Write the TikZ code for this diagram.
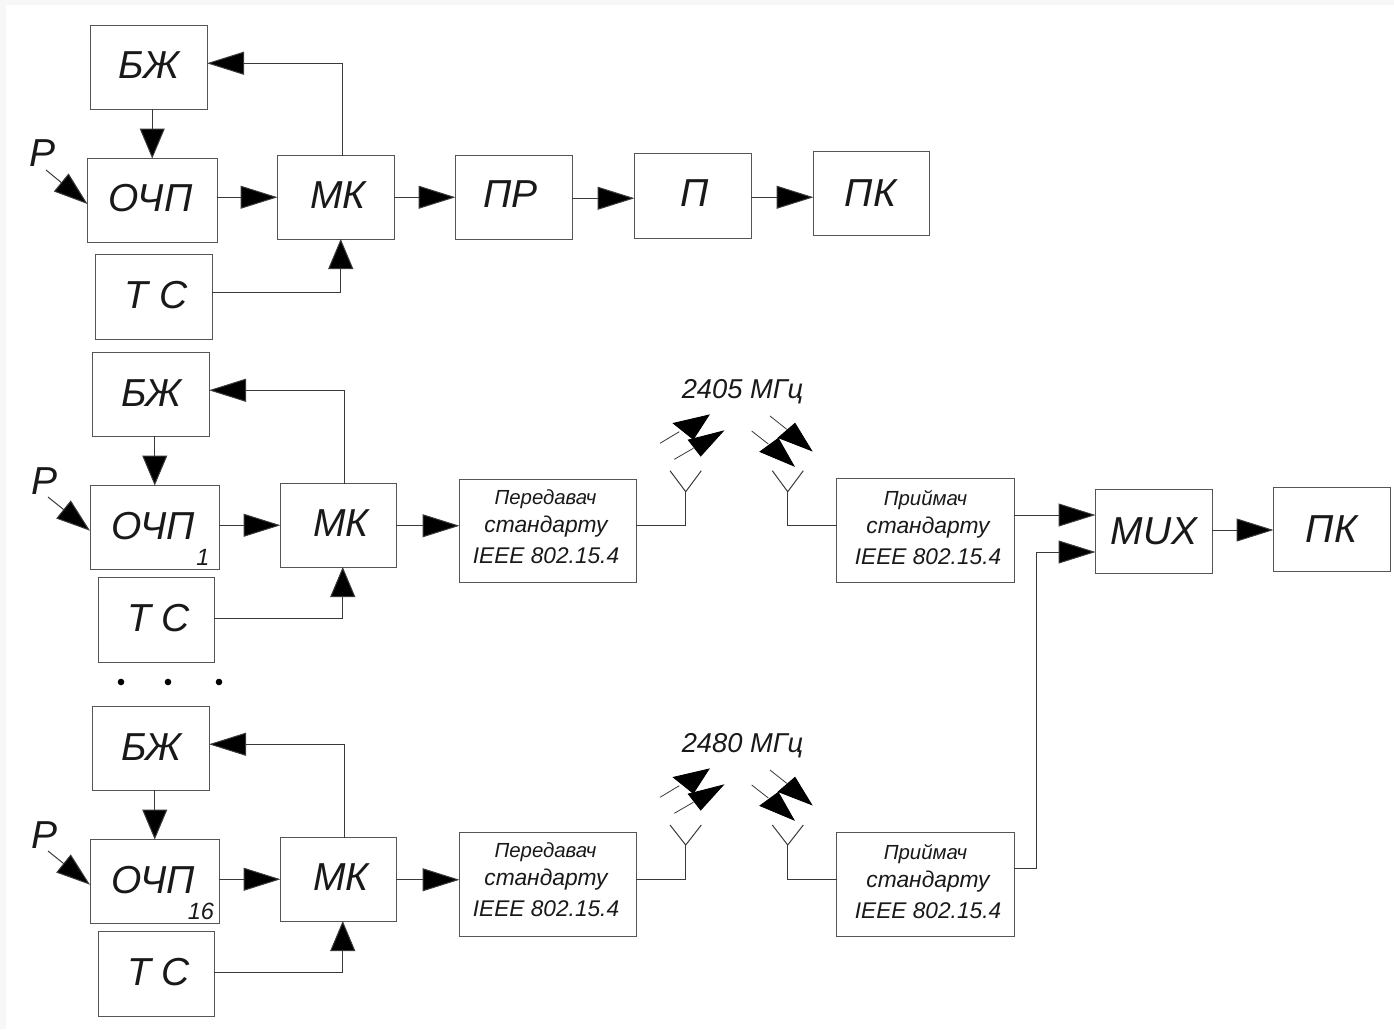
\documentclass[tikz,border=0pt]{standalone}
\usepackage{fontspec}
\setmainfont{Liberation Sans}
\usetikzlibrary{arrows.meta,calc}
\definecolor{ln}{HTML}{3A3A3A}
\definecolor{bx}{HTML}{555555}
\tikzset{
  box/.style={draw=bx,line width=.9pt,rectangle,inner sep=0pt,outer sep=0pt},
  lbl/.style={inner sep=0pt,outer sep=0pt,text=black!90,font=\fontsize{39}{42}\selectfont\itshape,text height=27.9pt,text depth=0pt},
  lbA/.style={lbl,font=\fontsize{20.4}{22}\selectfont\itshape,text height=14.6pt},
  lbB/.style={lbl,font=\fontsize{22.8}{26}\selectfont\itshape,text height=12.5pt},
  lbC/.style={lbl,font=\fontsize{22.7}{26}\selectfont\itshape,text height=16.2pt},
  lbF/.style={lbl,font=\fontsize{27.3}{30}\selectfont\itshape,text height=19.5pt},
  lbN/.style={lbl,font=\fontsize{23.5}{26}\selectfont\itshape,text height=16.8pt},
  wire/.style={draw=ln,line width=1pt},
  harr/.style={wire,-{Triangle[length=37pt,width=23pt,fill=black]}},
  varr/.style={wire,-{Triangle[length=30pt,width=25pt,fill=black]}},
  parr/.style={wire,-{Triangle[length=34pt,width=23pt,fill=black]}},
  solid tri/.style={fill=black,draw=black,line width=.8pt},
  thin wire/.style={draw=ln,line width=.8pt},
}
% name x1 y1 x2 y2 textx texty text
\newcommand{\bxx}[8]{%
  \pgfmathsetmacro{\cx}{(#2+#4)/2+.25}\pgfmathsetmacro{\cy}{(#3+#5)/2+.25}%
  \pgfmathsetmacro{\bw}{#4-#2-.5}\pgfmathsetmacro{\bh}{#5-#3-.5}%
  \pgfmathsetmacro{\dx}{#6-\cx}\pgfmathsetmacro{\dy}{\cy-#7}%
  \node[box,minimum width=\bw pt,minimum height=\bh pt,
    label={[lbl,xshift=\dx pt,yshift=\dy pt]center:{#8}}] (#1) at (\cx,\cy) {};}
% name x1 y1 x2 y2 textx firstliney firstline firstlinex
\newcommand{\trx}[9]{%
  \pgfmathsetmacro{\cx}{(#2+#4)/2+.25}\pgfmathsetmacro{\cy}{(#3+#5)/2+.25}%
  \pgfmathsetmacro{\bw}{#4-#2-.5}\pgfmathsetmacro{\bh}{#5-#3-.5}%
  \pgfmathsetmacro{\dxa}{#9-\cx}\pgfmathsetmacro{\dxb}{#6-\cx}%
  \pgfmathsetmacro{\dya}{\cy-#7}\pgfmathsetmacro{\dyb}{\cy-#7-29}\pgfmathsetmacro{\dyc}{\cy-#7-58}%
  \node[box,minimum width=\bw pt,minimum height=\bh pt,
    label={[lbA,xshift=\dxa pt,yshift=\dya pt]center:{#8}},
    label={[lbB,xshift=\dxb pt,yshift=\dyb pt]center:{стандарту}},
    label={[lbC,xshift=\dxb pt,yshift=\dyc pt]center:{IEEE 802.15.4}}] (#1) at (\cx,\cy) {};}
% radio wave arrows, dy = vertical offset
\newcommand{\radio}[2]{%
  \begin{scope}[yshift=-#1 pt]
    \draw[thin wire] (660,443.3) -- (679.3,431.7);
    \filldraw[solid tri] (709,415) -- (673.3,423.3) -- (693.3,439.3) -- cycle;
    \draw[thin wire] (674.3,459.3) -- (693.3,448.3);
    \filldraw[solid tri] (723.3,431) -- (688.3,440) -- (700.7,456) -- cycle;
    \draw[thin wire] (770,416) -- (786.7,429.3);
    \filldraw[solid tri] (795,423.3) -- (778.3,437.7) -- (811.7,450.7) -- cycle;
    \draw[thin wire] (751.7,431) -- (768.3,444);
    \filldraw[solid tri] (778.3,438.3) -- (760,451.7) -- (794,466) -- cycle;
    \node[lbF] (freq#2) at (742.5,388.5) {#2 МГц};
  \end{scope}}
\begin{document}
\begin{tikzpicture}[x=1pt,y=-1pt]
\useasboundingbox (0,0) rectangle (1394,1029);
\fill[black!3] (0,0) rectangle (1394,1029);
\fill[white] (6,5) rectangle (1394,1029);

% group 1
\bxx{bzA}{90}{25}{207}{109}{149}{65}{БЖ}
\bxx{ocA}{87}{158}{217}{242}{150.5}{198}{ОЧП}
\bxx{mkA}{277}{155}{394}{239}{338}{195}{МК}
\bxx{pr}{455}{155}{572}{239}{510.5}{193.5}{ПР}
\bxx{pp}{634}{153}{751}{238}{695}{193}{П}
\bxx{pkA}{813}{151}{929}{235}{870.5}{193}{ПК}
\bxx{tsA}{95}{254}{212}{339}{156}{294.5}{Т С}
\node[lbl] (pA) at (42.5,153) {P};
\coordinate (psA) at (46,170);
\coordinate (ptA) at (87.5,204);
\draw[varr] (ocA.north |- bzA.south) -- (ocA.north);
\draw[parr] (psA) -- (ptA);
\draw[harr] (mkA.west -| ocA.east) -- (mkA.west);
\draw[harr] (mkA.east) -- (pr.west);
\draw[harr] ([yshift=-1pt]pr.east) -- ([yshift=-1pt]pr.east -| pp.west);
\draw[harr] ([yshift=-1.5pt]pp.east) -- ([yshift=-1.5pt]pp.east -| pkA.west);
\draw[harr] ([xshift=6.5pt]mkA.north) |- ([yshift=4pt]bzA.east);
\draw[varr] ([yshift=4.5pt]tsA.east) -| ([xshift=5pt]mkA.south);

% group 2
\bxx{bzB}{92}{352}{209}{436}{151.5}{393}{БЖ}
\bxx{ocB}{90}{485}{219}{569}{153}{525.5}{ОЧП}
\bxx{mkB}{280}{483}{396}{567}{341}{523}{МК}
\bxx{tsB}{98}{577}{214}{662}{158.5}{618}{Т С}
\trx{txB}{459}{479}{636}{582}{546}{497}{Передавач}{545.5}
\trx{rxB}{836}{478}{1014}{582}{928}{498}{Приймач}{925.5}
\node[lbl] (pB) at (45,481) {P};
\node[lbN] (nB) at (203,557) {1};
\coordinate (psB) at (48,497);
\coordinate (ptB) at (90,530.7);
\draw[varr] (ocB.north |- bzB.south) -- (ocB.north);
\draw[parr] (psB) -- (ptB);
\draw[harr] (mkB.west -| ocB.east) -- (mkB.west);
\draw[harr] ([yshift=-.5pt]mkB.east) -- ([yshift=-.5pt]mkB.east -| txB.west);
\draw[harr] ([xshift=6.5pt]mkB.north) |- ([yshift=4pt]bzB.east);
\draw[varr] ([yshift=1.5pt]tsB.east) -| ([xshift=4.5pt]mkB.south);
\radio{0}{2405}
\coordinate (aTxB) at (685.7,491.7);
\coordinate (aRxB) at (787.7,491.7);
\coordinate (aTxBl) at (670,470.7); \coordinate (aTxBr) at (701.3,470.7);
\coordinate (aRxBl) at (772.3,470.7); \coordinate (aRxBr) at (803.3,470.7);
\draw[wire] (aTxBl) -- (aTxB) -- (aTxBr);
\draw[wire] (aRxBl) -- (aRxB) -- (aRxBr);
\draw[wire] (aTxB) |- (txB.east |- 0,525);
\draw[wire] (aRxB) |- (rxB.west |- 0,525);

% dots
\foreach \nm/\xx in {a/121,b/168,c/219}
  \fill[black] (\xx,682) circle (3.3pt);

% group 3
\bxx{bzC}{92}{706}{209}{790}{151.5}{747}{БЖ}
\bxx{ocC}{90}{839}{219}{923}{153}{879.5}{ОЧП}
\bxx{mkC}{280}{837}{396}{921}{341}{877}{МК}
\bxx{tsC}{98}{931}{214}{1016}{158.5}{972}{Т С}
\trx{txC}{459}{832}{636}{936}{546}{850}{Передавач}{545.5}
\trx{rxC}{836}{832}{1014}{936}{928}{852}{Приймач}{925.5}
\node[lbl] (pC) at (45,835) {P};
\node[lbN] (nC) at (201,911) {16};
\coordinate (psC) at (48,851);
\coordinate (ptC) at (90,884.7);
\draw[varr] (ocC.north |- bzC.south) -- (ocC.north);
\draw[parr] (psC) -- (ptC);
\draw[harr] (mkC.west -| ocC.east) -- (mkC.west);
\draw[harr] ([yshift=-.5pt]mkC.east) -- ([yshift=-.5pt]mkC.east -| txC.west);
\draw[harr] ([xshift=6.5pt]mkC.north) |- ([yshift=4pt]bzC.east);
\draw[varr] ([yshift=1.5pt]tsC.east) -| ([xshift=4.5pt]mkC.south);
\radio{354}{2480}
\coordinate (aTxC) at (685.7,845);
\coordinate (aRxC) at (787.7,845);
\coordinate (aTxCl) at (670,825); \coordinate (aTxCr) at (701.3,825);
\coordinate (aRxCl) at (772.3,825); \coordinate (aRxCr) at (803.3,825);
\draw[wire] (aTxCl) -- (aTxC) -- (aTxCr);
\draw[wire] (aRxCl) -- (aRxC) -- (aRxCr);
\draw[wire] (aTxC) |- (txC.east |- 0,879);
\draw[wire] (aRxC) |- (rxC.west |- 0,879);

% right side
\bxx{mux}{1095}{489}{1212}{573}{1154}{531}{MUX}
\bxx{pkB}{1273}{487}{1390}{571}{1331.5}{529}{ПК}
\draw[harr] (rxB.east |- 0,515) -- (mux.west |- 0,515);
\coordinate (jn) at (1036,552);
\draw[harr] (rxC.east |- 0,868) -| (jn) -- (mux.west |- jn);
\draw[harr] (mux.east |- 0,530) -- (pkB.west |- 0,530);
\end{tikzpicture}
\end{document}
